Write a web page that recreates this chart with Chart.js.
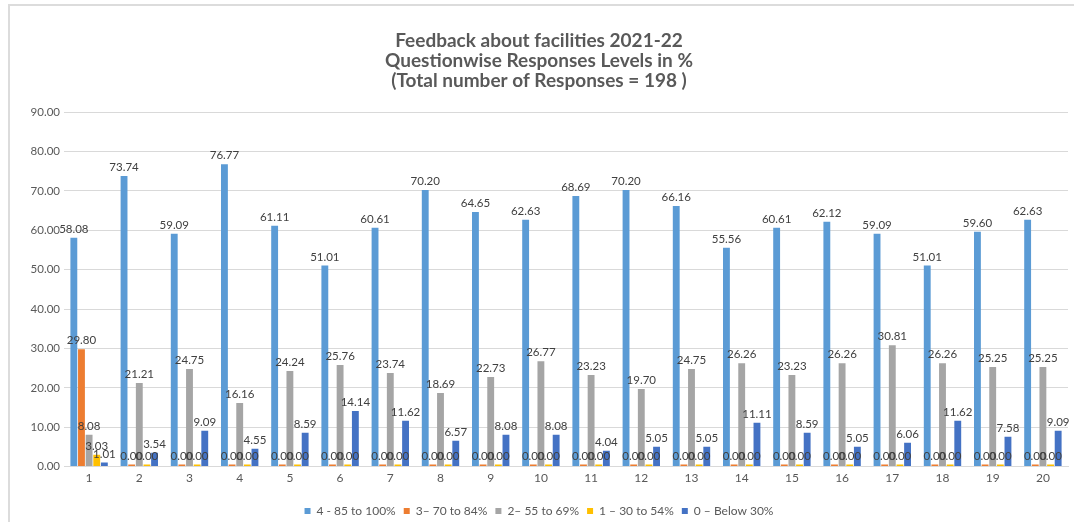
<!DOCTYPE html>
<html lang="en">
<head>
  <meta charset="UTF-8">
  <title>Feedback about facilities 2021-22</title>
  <script src="https://cdn.jsdelivr.net/npm/chart.js"></script>
  <style>
    html, body { margin: 0; padding: 0; background: #fff; }
    .frame {
      position: absolute; left: 8px; top: 4px;
      width: 1064px; height: 516px;
      border-left: 2px solid #dcdcdc; border-top: 2px solid #dcdcdc;
    }
  </style>
</head>
<body>
  <div class="frame">
    <canvas id="feedbackChart" width="1064" height="516"></canvas>
  </div>

  <script>
    // questions 1..20
    const questions = ['1','2','3','4','5','6','7','8','9','10','11','12','13','14','15','16','17','18','19','20'];

    const seriesNames = ['4 - 85 to 100%', '3\u2013 70 to 84%', '2\u2013 55 to 69%', '1 \u2013 30 to 54%', '0 \u2013 Below 30%'];

    const level4 = [58.08, 73.74, 59.09, 76.77, 61.11, 51.01, 60.61, 70.20, 64.65, 62.63, 68.69, 70.20, 66.16, 55.56, 60.61, 62.12, 59.09, 51.01, 59.60, 62.63];
    const level3 = [29.80, 0, 0, 0, 0, 0, 0, 0, 0, 0, 0, 0, 0, 0, 0, 0, 0, 0, 0, 0];
    const level2 = [8.08, 21.21, 24.75, 16.16, 24.24, 25.76, 23.74, 18.69, 22.73, 26.77, 23.23, 19.70, 24.75, 26.26, 23.23, 26.26, 30.81, 26.26, 25.25, 25.25];
    const level1 = [3.03, 0, 0, 0, 0, 0, 0, 0, 0, 0, 0, 0, 0, 0, 0, 0, 0, 0, 0, 0];
    const level0 = [1.01, 3.54, 9.09, 4.55, 8.59, 14.14, 11.62, 6.57, 8.08, 8.08, 4.04, 5.05, 5.05, 11.11, 8.59, 5.05, 6.06, 11.62, 7.58, 9.09];

    const colors = ['#5B9BD5', '#ED7D31', '#A5A5A5', '#FFC000', '#4472C4'];
    const allSeries = [level4, level3, level2, level1, level0];

    // value labels on top of each bar (Excel style)
    const valueLabels = {
      id: 'valueLabels',
      afterDatasetsDraw(chart) {
        const ctx = chart.ctx;
        ctx.save();
        ctx.font = '11.5px Lato';
        ctx.fillStyle = '#404040';
        ctx.textAlign = 'center';
        ctx.textBaseline = 'bottom';
        chart.data.datasets.forEach((ds, i) => {
          const meta = chart.getDatasetMeta(i);
          if (meta.hidden) return;
          meta.data.forEach((bar, j) => {
            ctx.fillText(ds.data[j].toFixed(2), bar.x, bar.y - 3);
          });
        });
        ctx.restore();
      }
    };

    const ctx = document.getElementById('feedbackChart').getContext('2d');
    new Chart(ctx, {
      type: 'bar',
      data: {
        labels: questions,
        datasets: allSeries.map((vals, i) => ({
          label: seriesNames[i],
          data: vals,
          backgroundColor: colors[i],
          borderWidth: 0,
          minBarLength: 2,
          categoryPercentage: 0.76,
          barPercentage: 0.9
        }))
      },
      options: {
        responsive: false,
        animation: false,
        layout: { padding: { top: 19, right: 6, bottom: -5, left: 0 } },
        plugins: {
          title: {
            display: true,
            text: ['Feedback about facilities 2021-22', 'Questionwise Responses Levels in %', '(Total number of Responses = 198 )'],
            color: '#595959',
            font: { family: 'Lato', size: 19, weight: 'bold', lineHeight: '20px' },
            padding: { top: 6, bottom: 21 }
          },
          legend: {
            position: 'bottom',
            labels: {
              color: '#595959',
              font: { family: 'Lato', size: 12 },
              boxWidth: 6,
              boxHeight: 6,
              padding: 8
            }
          },
          tooltip: { enabled: false }
        },
        scales: {
          x: {
            afterFit(scale) { scale.height += 8; },
            grid: { display: false, drawTicks: false },
            border: { color: '#d9d9d9', width: 1 },
            ticks: { color: '#595959', font: { family: 'Lato', size: 12 }, padding: 4 }
          },
          y: {
            min: 0,
            max: 90,
            afterFit(scale) { scale.width = 54; },
            grid: { color: '#d9d9d9', drawTicks: false },
            border: { display: false },
            ticks: {
              stepSize: 10,
              color: '#595959',
              font: { family: 'Lato', size: 11.5 },
              padding: 4,
              callback: v => v.toFixed(2)
            }
          }
        }
      },
      plugins: [valueLabels]
    });
  </script>
</body>
</html>
